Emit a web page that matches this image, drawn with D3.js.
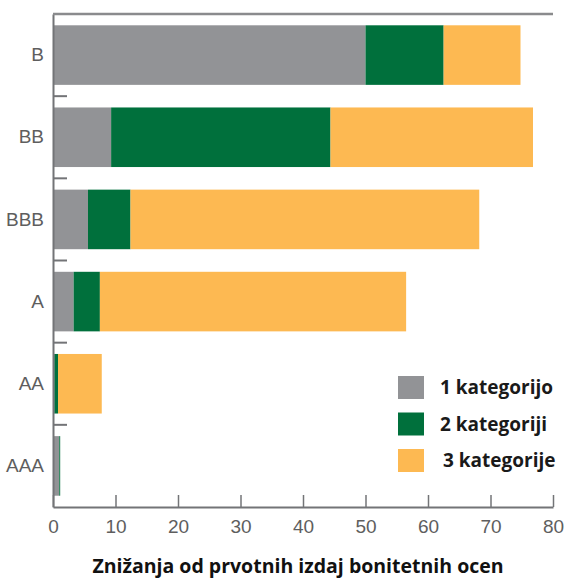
<!DOCTYPE html>
<html>
<head>
<meta charset="utf-8">
<script src="https://cdn.jsdelivr.net/npm/d3@7"></script>
<style>
  html, body { margin: 0; padding: 0; background: #ffffff; }
  svg { display: block; }
</style>
</head>
<body>
<script>
const categories = ["B", "BB", "BBB", "A", "AA", "AAA"];
const seriesNames = ["1 kategorijo", "2 kategoriji", "3 kategorije"];
const oneCategory   = [50.0, 9.3, 5.6, 3.3, 0.2, 1.0];
const twoCategories = [12.5, 35.1, 6.8, 4.2, 0.6, 0.15];
const threeCategories = [12.3, 32.4, 55.8, 49.0, 7.0, 0];
const xTicks = [0, 10, 20, 30, 40, 50, 60, 70, 80];
const axisTitle = "Znižanja od prvotnih izdaj bonitetnih ocen";
const colors = ["#929396", "#00703c", "#fdb952"];

const W = 566, H = 579;
const svg = d3.select("body").append("svg").attr("width", W).attr("height", H);

const margin = { left: 53, right: 13, top: 14, bottom: 72 };
const x = d3.scaleLinear().domain([0, 80]).range([margin.left, W - margin.right]);
const y = d3.scaleBand().domain(categories).range([margin.top, H - margin.bottom])
  .paddingInner(0.275).paddingOuter(0.1375);

const rows = categories.map((c, i) => ({
  cat: c,
  s0: oneCategory[i], s1: twoCategories[i], s2: threeCategories[i]
}));
const stack = d3.stack().keys(["s0", "s1", "s2"]);
const layers = stack(rows);

svg.append("g").selectAll("g").data(layers).join("g")
  .attr("fill", (d, i) => colors[i])
  .selectAll("rect").data(d => d).join("rect")
  .attr("x", d => x(d[0]))
  .attr("width", d => Math.max(0, x(d[1]) - x(d[0])))
  .attr("y", d => y(d.data.cat))
  .attr("height", y.bandwidth());

const axisColor = "#737477";
const labelColor = "#5e5e5e";

// bottom axis
const xAxis = d3.axisBottom(x).tickValues(xTicks).tickSize(-12).tickSizeOuter(0).tickPadding(13);
const gx = svg.append("g").attr("transform", `translate(0,${H - margin.bottom})`).call(xAxis);
gx.select(".domain").attr("stroke", axisColor).attr("stroke-width", 2);
gx.selectAll(".tick line").attr("stroke", axisColor).attr("stroke-width", 1.5);
gx.selectAll(".tick text").attr("fill", labelColor)
  .style("font-family", "'Liberation Sans', Arial, sans-serif").style("font-size", "19px");

// left axis
const yAxis = d3.axisLeft(y).tickSize(0).tickPadding(9);
const gy = svg.append("g").attr("transform", `translate(${margin.left},0)`).call(yAxis);
gy.select(".domain").attr("stroke", axisColor).attr("stroke-width", 2);
gy.selectAll(".tick text").attr("fill", labelColor)
  .style("font-family", "'Liberation Sans', Arial, sans-serif").style("font-size", "19px");

// top line
svg.append("line")
  .attr("x1", x(0)).attr("x2", x(80))
  .attr("y1", margin.top).attr("y2", margin.top)
  .attr("stroke", "#8a8b8d").attr("stroke-width", 2.5);

// separators between bands
const r0 = y.range()[0];
const step = y.step();
const seps = d3.range(1, categories.length).map(i => r0 + i * step);
svg.append("g").selectAll("line").data(seps).join("line")
  .attr("x1", x(0)).attr("x2", x(0) + 14)
  .attr("y1", d => d).attr("y2", d => d)
  .attr("stroke", axisColor).attr("stroke-width", 2);

// legend
const legend = svg.append("g").attr("transform", "translate(398,376)");
const li = legend.selectAll("g").data(seriesNames).join("g")
  .attr("transform", (d, i) => `translate(0,${i * 36.5})`);
li.append("rect").attr("width", 26).attr("height", 23).attr("fill", (d, i) => colors[i]);
li.append("text")
  .attr("x", (d, i) => i === 2 ? 45 : 42).attr("y", 18)
  .attr("fill", "#1a1a1a")
  .style("font-family", "'Open Sans', sans-serif").style("font-weight", "bold").style("font-size", "19px")
  .text(d => d);

// axis title
svg.append("text")
  .attr("x", 298).attr("y", 573)
  .attr("text-anchor", "middle")
  .attr("fill", "#111")
  .style("font-family", "'Open Sans', sans-serif").style("font-weight", "bold").style("font-size", "19.5px")
  .text(axisTitle);
</script>
</body>
</html>
